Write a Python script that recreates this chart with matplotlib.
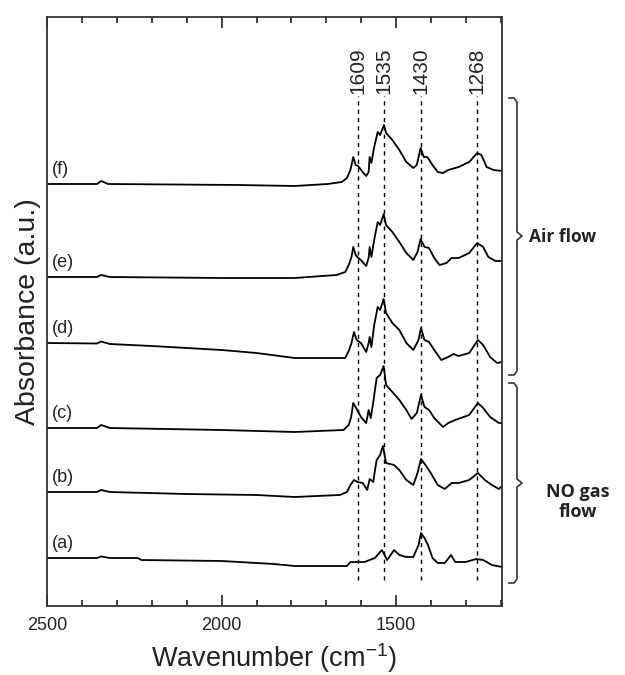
import numpy as np
import matplotlib
matplotlib.use("Agg")
import matplotlib.pyplot as plt
from matplotlib.lines import Line2D
from matplotlib.ticker import MultipleLocator

plt.rcParams['font.family'] = ['Liberation Sans', 'DejaVu Sans']
plt.rcParams['mathtext.fontset'] = 'custom'
plt.rcParams['mathtext.rm'] = 'Liberation Sans'
plt.rcParams['mathtext.default'] = 'regular'

# spectra: wavenumber (cm-1) and absorbance above each baseline
wn_a = [2500, 2357, 2345, 2320, 2240, 2230, 2000, 1850, 1791, 1641, 1631, 1591, 1561, 1541, 1526,
        1506, 1491, 1471, 1451, 1436, 1429, 1419, 1409, 1396, 1381, 1361, 1343, 1331, 1301, 1271,
        1251, 1226, 1197]
ab_a = [0, 0, 0.015, 0, 0, -0.02, -0.03, -0.06, -0.08, -0.08, -0.04, -0.04, 0.00, 0.08, -0.02,
        0.08, 0.03, 0.01, 0.01, 0.13, 0.25, 0.20, 0.13, 0.00, -0.05, -0.05, 0.03, -0.04, -0.04, -0.01,
        -0.02, -0.07, -0.09]

wn_b = [2500, 2357, 2345, 2320, 2100, 1900, 1791, 1661, 1641, 1631, 1621, 1611, 1596, 1583, 1576,
        1566, 1556, 1546, 1538, 1529, 1506, 1491, 1471, 1451, 1439, 1429, 1416, 1401, 1381, 1361,
        1341, 1321, 1291, 1266, 1246, 1226, 1206, 1197]
ab_b = [0, 0, 0.02, 0, -0.02, -0.03, -0.05, -0.03, 0.00, 0.07, 0.12, 0.10, 0.09, 0.02, 0.13,
        0.10, 0.32, 0.37, 0.46, 0.29, 0.27, 0.22, 0.12, 0.07, 0.19, 0.33, 0.27, 0.19, 0.07, 0.03,
        0.09, 0.09, 0.12, 0.19, 0.12, 0.07, 0.03, 0.06]

wn_c = [2500, 2357, 2345, 2320, 2000, 1791, 1651, 1636, 1629, 1623, 1613, 1601, 1586, 1579, 1573,
        1566, 1556, 1546, 1536, 1529, 1511, 1491, 1471, 1456, 1441, 1429, 1419, 1406, 1391, 1366,
        1351, 1331, 1291, 1266, 1251, 1231, 1206, 1197]
ab_c = [0, 0, 0.03, 0, -0.02, -0.04, -0.02, 0.03, 0.11, 0.25, 0.19, 0.11, 0.05, 0.18, 0.10,
        0.25, 0.50, 0.53, 0.62, 0.43, 0.36, 0.28, 0.18, 0.09, 0.15, 0.33, 0.21, 0.18, 0.10, 0.01,
        0.05, 0.08, 0.13, 0.25, 0.20, 0.11, 0.05, 0.05]

wn_d = [2500, 2357, 2345, 2320, 2200, 2000, 1900, 1791, 1646, 1636, 1628, 1621, 1613, 1601, 1586,
        1579, 1576, 1571, 1563, 1553, 1546, 1536, 1529, 1511, 1491, 1471, 1451, 1436, 1429, 1419,
        1406, 1391, 1371, 1351, 1336, 1321, 1291, 1266, 1251, 1231, 1211, 1197]
ab_d = [0, -0.005, 0.015, -0.01, -0.03, -0.07, -0.10, -0.15, -0.15, -0.08, 0.00, 0.11, 0.03, 0.00, -0.09,
        0.00, 0.06, -0.04, 0.18, 0.36, 0.33, 0.44, 0.30, 0.20, 0.13, 0.00, -0.07, 0.03, 0.15, 0.03,
        0.01, -0.07, -0.17, -0.14, -0.11, -0.13, -0.10, 0.03, -0.02, -0.14, -0.20, -0.19]

wn_e = [2500, 2357, 2345, 2320, 2000, 1791, 1671, 1646, 1636, 1628, 1623, 1616, 1609, 1601, 1586,
        1579, 1576, 1571, 1563, 1553, 1546, 1536, 1529, 1511, 1491, 1471, 1451, 1439, 1430, 1419,
        1406, 1391, 1376, 1356, 1341, 1321, 1291, 1268, 1251, 1236, 1216, 1197]
ab_e = [0, 0, 0.02, 0, -0.01, -0.01, 0.02, 0.05, 0.12, 0.20, 0.30, 0.22, 0.19, 0.17, 0.11,
        0.19, 0.30, 0.20, 0.37, 0.55, 0.52, 0.63, 0.52, 0.45, 0.35, 0.24, 0.17, 0.25, 0.38, 0.30,
        0.29, 0.19, 0.12, 0.14, 0.19, 0.19, 0.24, 0.34, 0.30, 0.20, 0.16, 0.16]

wn_f = [2500, 2357, 2345, 2325, 1950, 1791, 1696, 1656, 1641, 1631, 1623, 1616, 1609, 1596, 1586,
        1579, 1576, 1571, 1563, 1553, 1546, 1535, 1529, 1511, 1491, 1471, 1451, 1441, 1430, 1421,
        1411, 1396, 1381, 1366, 1351, 1321, 1291, 1268, 1256, 1241, 1221, 1197]
ab_f = [0, 0, 0.03, 0, -0.01, -0.02, 0, 0.02, 0.06, 0.14, 0.27, 0.19, 0.18, 0.12, 0.08,
        0.12, 0.27, 0.21, 0.37, 0.52, 0.49, 0.59, 0.51, 0.44, 0.34, 0.22, 0.16, 0.19, 0.36, 0.27,
        0.27, 0.19, 0.12, 0.11, 0.14, 0.17, 0.22, 0.31, 0.29, 0.17, 0.14, 0.13]

labels = ['(a)', '(b)', '(c)', '(d)', '(e)', '(f)']
offsets = [0.48, 1.14, 1.78, 2.63, 3.29, 4.22]
peaks = [1609, 1535, 1430, 1268]

W, H = 625, 675
fig = plt.figure(figsize=(W / 100, H / 100), dpi=100)
ax = fig.add_axes([47 / W, 1 - 606 / H, 455 / W, 589 / H])

spectra = [(wn_a, ab_a), (wn_b, ab_b), (wn_c, ab_c), (wn_d, ab_d), (wn_e, ab_e), (wn_f, ab_f)]
for (wn, ab), off, lab in zip(spectra, offsets, labels):
    ax.plot(wn, np.array(ab) + off, color='black', lw=1.3)
    ax.text(2486, off + 0.14, lab, fontsize=13, ha='left', va='center', color='#222222')

for p in peaks:
    ax.plot([p, p], [0.26, 5.10], color='black', lw=1.0, ls=(0, (3, 3)))
    ax.text(p, 5.12, str(p), rotation=90, ha='center', va='bottom', fontsize=15, color='#222222')

ax.set_xlim(2500, 1197)
ax.set_ylim(0, 5.89)
ax.set_yticks([])
ax.xaxis.set_major_locator(MultipleLocator(500))
ax.xaxis.set_minor_locator(MultipleLocator(100))
ax.tick_params(axis='x', which='both', direction='in', top=True, bottom=True, labelsize=13,
               colors='#222222', pad=8)
ax.tick_params(axis='x', which='major', length=8, width=1.2)
ax.tick_params(axis='x', which='minor', length=4, width=1.2)
for s in ax.spines.values():
    s.set_linewidth(1.3)
    s.set_color('#333333')

ax.set_xlabel('Wavenumber (cm$^{-1}$)', fontsize=19.5, color='#222222', labelpad=5)
ax.set_ylabel('Absorbance (a.u.)', fontsize=20.5, color='#222222', labelpad=4)


def brace(top, mid, bot, x=517):
    xs = [509, 514, x, x, x + 5, x, x, 514, 509]
    ys = [top, top, top + 4, mid - 4, mid, mid + 4, bot - 4, bot, bot]
    fig.add_artist(Line2D([v / W for v in xs], [1 - v / H for v in ys], color='#333333', lw=1.2))


brace(98, 236, 375)
brace(383, 483, 583)
fig.text(529 / W, 1 - 237 / H, 'Air flow', fontsize=12.5, fontweight='bold', family='Open Sans',
         ha='left', va='center', color='#222222')
fig.text(578 / W, 1 - 502 / H, 'NO gas\nflow', fontsize=13, fontweight='bold', family='Open Sans',
         ha='center', va='center', color='#222222', linespacing=1.15)

fig.savefig('out.png', dpi=100)
